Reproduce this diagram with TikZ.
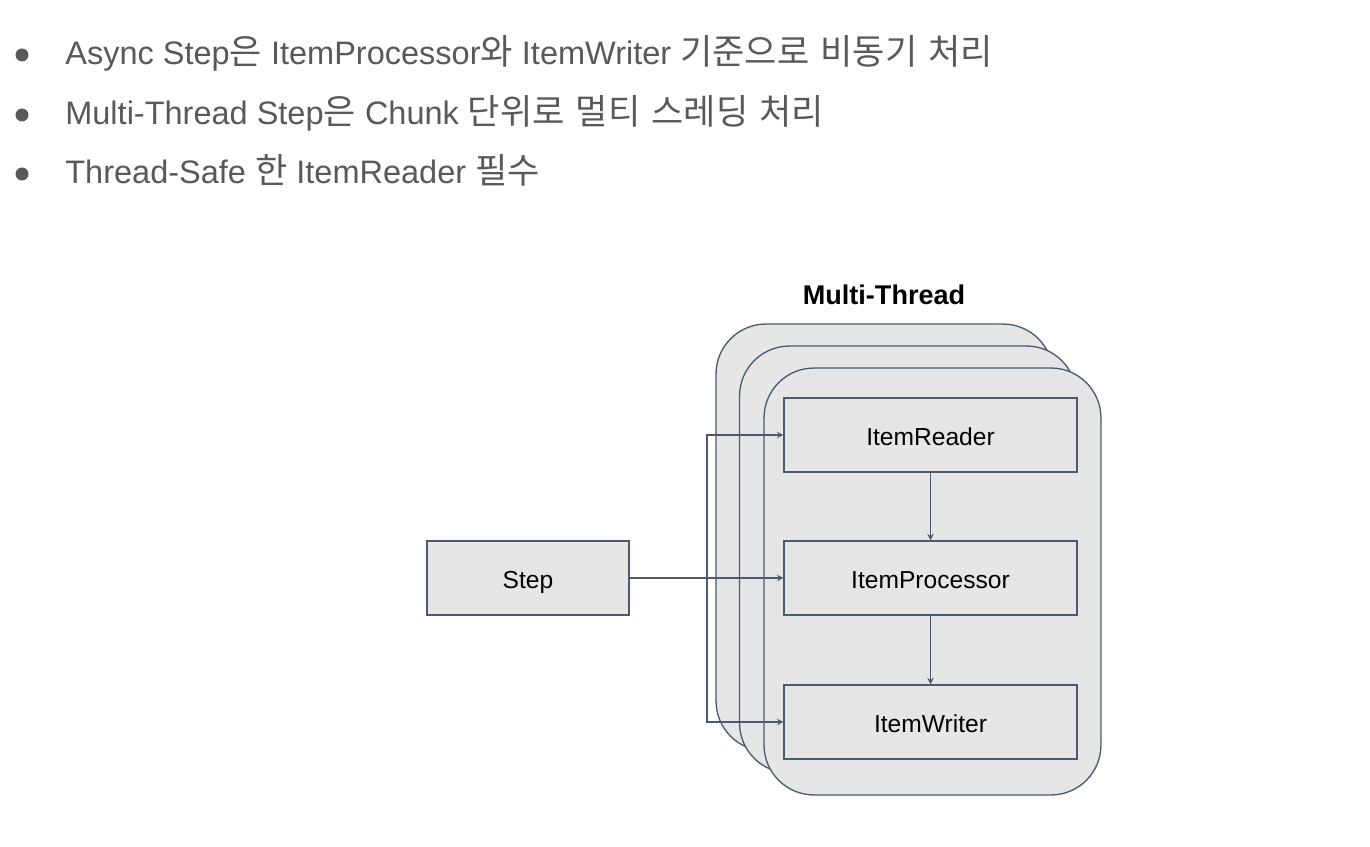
\documentclass[tikz,border=0pt]{standalone}
\usepackage{fontspec}
\setmainfont{Liberation Sans}
\newfontfamily\kr[Scale=1.08,WordSpace=1.4]{Noto Sans CJK KR}
\usetikzlibrary{arrows,positioning}

\definecolor{slate}{HTML}{4B5A70}
\definecolor{boxgray}{HTML}{E6E6E6}
\definecolor{textgray}{HTML}{595959}

\begin{document}
\begin{tikzpicture}[
  x=0.02cm, y=-0.02cm,
  note/.style={anchor=base west, inner sep=0pt, text=textgray, font=\fontsize{18.5}{22}\selectfont},
  dot/.style={circle, fill=textgray, minimum size=0.26cm, inner sep=0pt},
  frame/.style={rectangle, draw=slate, fill=boxgray, line width=0.75pt, rounded corners=1cm,
    minimum width=6.74cm, minimum height=8.54cm},
  box/.style={rectangle, draw=slate, fill=boxgray, line width=0.75pt, minimum height=1.48cm,
    text height=12.5pt, text depth=0pt, font=\fontsize{14}{16}\selectfont},
  link/.style={draw=slate, line width=0.65pt, ->, >=stealth}
]
  \useasboundingbox (0,0) rectangle (1370,847);

  % bullet list
  \node[dot] (dot1) at (22,55) {};
  \node[dot] (dot2) at (22,115) {};
  \node[dot] (dot3) at (22,174) {};
  \node[note] (line1) at (65,65) {Async Step{\kr 은} ItemProcessor{\kr 와} ItemWriter {\kr 기준으로 비동기 처리}};
  \node[note] (line2) at (65,125) {Multi-Thread Step{\kr 은} Chunk {\kr 단위로 멀티 스레딩 처리}};
  \node[note] (line3) at (65,184) {Thread-Safe {\kr 한} ItemReader {\kr 필수}};

  % stacked threads
  \node[font=\bfseries\fontsize{15.4}{18}\selectfont] (title) at (884,295) {Multi-Thread};
  \node[frame] (thread1) at (884.5,537.5) {};
  \node[frame] (thread2) at (908,559.5) {};
  \node[frame] (thread3) at (932.5,581.5) {};

  \node[box, minimum width=4.04cm] (step) at (528,578) {Step};
  \node[box, minimum width=5.86cm] (reader) at (930.5,435) {ItemReader};
  \node[box, minimum width=5.86cm] (processor) at (930.5,578) {ItemProcessor};
  \node[box, minimum width=5.86cm] (writer) at (930.5,722) {ItemWriter};

  \coordinate (split) at (707,578);

  \draw[link] (step) -- (processor);
  \draw[link] (split) |- (reader);
  \draw[link] (split) |- (writer);
  \draw[link] (reader) -- (processor);
  \draw[link] (processor) -- (writer);
\end{tikzpicture}
\end{document}
